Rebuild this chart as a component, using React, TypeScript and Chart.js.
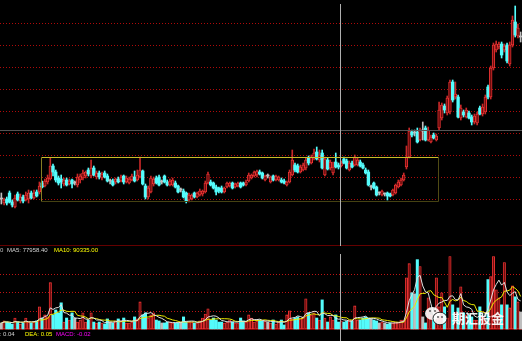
import React, { useEffect, useRef } from "react";
import { Chart, registerables } from "chart.js";

Chart.register(...registerables);

// ---------- data ----------
const OPEN = [
  801, 797, 801, 807, 798, 793, 806, 799, 803, 800, 801, 807, 802, 808, 808, 817, 814, 818, 821, 834,
  828, 822, 821, 816, 820, 816, 820, 817, 815, 820, 822, 824, 830, 824, 832, 823, 827, 822,
  827, 824, 819, 819, 818, 821, 819, 824, 818, 817, 820, 823, 820, 823, 829, 814, 803, 808, 816, 822,
  823, 818, 824, 818, 815, 815, 817, 814, 810, 809, 807, 800, 801, 807, 803, 805, 806, 808, 817,
  818, 817, 813, 812, 812, 808, 813, 814, 817, 813, 814, 817, 817, 815, 819, 822, 824, 825, 828, 827,
  820, 824, 818, 824, 820, 820, 820, 819, 815, 818, 825, 835, 834, 828, 830, 832, 842, 837, 842,
  848, 840, 847, 825, 840, 832, 827, 838, 835, 834, 841, 839, 830, 837, 835, 835, 838, 835, 830, 828,
  813, 817, 813, 807, 805, 806, 807, 806, 805, 807, 813, 815, 820, 833, 843, 868, 867, 868, 860,
  869, 872, 860, 858, 865, 860, 872, 882, 894, 887, 888, 918, 903, 903, 882, 888, 883, 887, 883, 878,
  877, 892, 886, 888, 913, 903, 932, 950, 953, 956, 950, 955, 936, 955, 978, 964, 963,
];
const HIGH = [
  807, 802, 803, 809, 800, 805, 808, 806, 805, 808, 810, 809, 810, 810, 818, 819, 821, 825, 842, 836,
  830, 824, 825, 822, 822, 821, 821, 819, 826, 826, 830, 829, 832, 840, 834, 829, 829, 828,
  829, 826, 821, 821, 822, 823, 825, 825, 824, 823, 826, 829, 830, 843, 830, 816, 814, 824, 823, 824,
  825, 820, 825, 820, 821, 822, 819, 815, 812, 811, 808, 807, 806, 808, 808, 811, 810, 819, 828,
  820, 818, 815, 813, 814, 813, 818, 818, 818, 817, 818, 818, 818, 820, 827, 826, 829, 830, 830, 828,
  825, 826, 824, 825, 825, 824, 822, 821, 819, 830, 850, 837, 836, 835, 837, 842, 844, 845, 851,
  853, 850, 850, 843, 842, 840, 838, 847, 837, 839, 843, 841, 839, 839, 845, 842, 840, 837, 832, 830,
  815, 818, 814, 808, 810, 807, 808, 807, 811, 816, 820, 822, 827, 854, 872, 870, 870, 872, 872,
  878, 874, 873, 865, 867, 866, 898, 897, 896, 904, 920, 920, 918, 905, 895, 890, 892, 889, 885, 886,
  888, 894, 896, 905, 915, 934, 957, 959, 958, 958, 956, 957, 958, 984, 994, 976, 968,
];
const LOW = [
  796, 795, 795, 797, 793, 792, 799, 797, 797, 799, 797, 801, 801, 803, 806, 812, 813, 816, 820, 824,
  818, 815, 812, 814, 814, 815, 812, 815, 813, 817, 820, 822, 824, 822, 824, 821, 821, 820,
  822, 818, 816, 814, 816, 817, 818, 816, 817, 816, 819, 818, 819, 822, 815, 801, 801, 807, 814, 816,
  814, 816, 817, 814, 814, 814, 812, 807, 808, 802, 797, 798, 800, 802, 802, 804, 804, 807, 816,
  814, 811, 805, 807, 807, 807, 812, 813, 811, 812, 813, 812, 814, 814, 818, 821, 823, 823, 825, 821,
  819, 822, 817, 819, 819, 819, 817, 816, 814, 817, 824, 828, 827, 827, 829, 830, 835, 836, 840,
  840, 838, 831, 824, 830, 830, 825, 832, 831, 833, 836, 831, 829, 832, 834, 834, 833, 831, 826, 814,
  810, 811, 804, 805, 804, 804, 800, 803, 804, 806, 812, 814, 819, 831, 842, 863, 864, 857, 859,
  860, 859, 859, 857, 861, 859, 870, 880, 887, 885, 886, 898, 901, 882, 880, 883, 882, 881, 875, 876,
  875, 885, 884, 886, 901, 901, 930, 948, 951, 942, 948, 937, 934, 953, 963, 962, 958,
];
const CLOSE = [
  801, 800, 797, 798, 795, 802, 800, 803, 799, 805, 807, 802, 807, 804, 814, 813, 819, 822, 834, 828,
  820, 817, 818, 820, 815, 819, 816, 817, 823, 824, 827, 828, 826, 832, 825, 827, 823, 826,
  823, 819, 819, 815, 821, 818, 823, 818, 822, 821, 824, 819, 825, 830, 816, 803, 812, 822, 821, 817,
  815, 818, 818, 815, 819, 820, 813, 808, 810, 803, 799, 805, 805, 803, 807, 809, 809, 817, 826,
  815, 812, 808, 809, 808, 812, 817, 817, 812, 816, 817, 813, 815, 818, 825, 825, 828, 829, 826, 822,
  824, 824, 823, 820, 824, 823, 818, 817, 818, 828, 840, 830, 828, 833, 835, 840, 837, 843, 847,
  841, 845, 832, 841, 831, 838, 833, 833, 833, 837, 837, 832, 837, 833, 843, 840, 834, 832, 827, 815,
  813, 812, 805, 807, 809, 806, 804, 804, 810, 815, 818, 820, 825, 843, 869, 865, 867, 858, 870,
  869, 860, 870, 863, 862, 864, 890, 895, 890, 902, 918, 900, 906, 883, 892, 885, 890, 882, 878, 884,
  886, 886, 893, 903, 903, 932, 955, 956, 956, 945, 954, 939, 955, 980, 965, 972, 963,
];
const VOLUME = [
  33000, 44000, 38000, 33000, 27000, 60000, 38000, 27000, 33000, 60000,
  38000, 33000, 38000, 44000, 121000, 60000, 77000, 66000, 253000, 77000,
  104000, 88000, 143000, 38000, 60000, 49000, 88000, 60000, 38000, 49000,
  88000, 38000, 49000, 88000, 38000, 33000, 38000, 33000, 27000, 55000,
  38000, 33000, 44000, 55000, 44000, 60000, 33000, 33000, 38000, 66000,
  55000, 148000, 77000, 88000, 60000, 77000, 88000, 49000, 44000, 33000,
  33000, 38000, 38000, 33000, 33000, 33000, 38000, 66000, 38000, 38000,
  38000, 33000, 33000, 44000, 60000, 82000, 110000, 49000, 60000, 49000,
  38000, 38000, 33000, 38000, 49000, 38000, 33000, 33000, 60000, 44000,
  38000, 77000, 60000, 38000, 44000, 49000, 44000, 44000, 38000, 33000,
  49000, 27000, 38000, 49000, 22000, 77000, 99000, 55000, 60000, 66000,
  60000, 66000, 165000, 88000, 77000, 88000, 60000, 49000, 159000, 60000,
  38000, 66000, 49000, 77000, 38000, 44000, 38000, 44000, 49000, 44000,
  126000, 49000, 49000, 60000, 66000, 60000, 55000, 49000, 44000, 33000,
  38000, 33000, 27000, 33000, 33000, 38000, 38000, 49000, 49000, 280000,
  357000, 198000, 192000, 379000, 341000, 66000, 33000, 170000, 77000, 60000,
  280000, 121000, 198000, 121000, 60000, 396000, 132000, 93000, 115000, 231000,
  88000, 77000, 77000, 66000, 49000, 49000, 121000, 66000, 49000, 270000,
  286000, 396000, 214000, 170000, 132000, 363000, 132000, 115000, 236000, 176000,
  148000, 93000,
];
const CATEGORIES = OPEN.map((_, i) => String(i + 1));

const PRICE_GRID = [977, 955, 933, 911, 889, 867, 845, 823, 801];
const VOLUME_GRID = [100000, 200000, 300000];
const VOLUME_PANE_TOP = 459000;
const BOX = { fromIndex: 14.5, toIndex: 160.5, high: 843, low: 799 };
const CURSOR = { index: 124.5, price: 870 };

const HEADER_TEXT = [
  { text: "0", color: "rgb(190,190,190)" },
  { text: "MA5: 77958.40", color: "rgb(210,210,210)" },
  { text: "MA10: 90335.00", color: "rgb(255,255,0)" },
];
const MACD_TEXT = [
  { text: "DIF: 0.04", color: "rgb(210,210,210)" },
  { text: "DEA: 0.05", color: "rgb(255,255,0)" },
  { text: "MACD: -0.02", color: "rgb(255,0,255)" },
];
const WATERMARK = "期汇股金";

// ---------- axis ranges / styles ----------
const PRICE_MIN = 659;
const PRICE_MAX = 1000;
const VOL_MIN = -65574;
const VOL_MAX = 1797814;

const UP = "rgb(255,56,56)";
const UP_FILL = "rgb(110,14,14)";
const DOWN = "rgb(84,252,252)";
const FLAT = "rgb(190,190,190)";

const dir = (i: number) => Math.sign(CLOSE[i] - OPEN[i]);
const pick = (ctx: any, up: any, down: any, flat: any) => {
  const i = ctx && typeof ctx.dataIndex === "number" ? ctx.dataIndex : -1;
  if (i < 0) return down;
  const d = dir(i);
  return d > 0 ? up : d < 0 ? down : flat;
};

const movingAverage = (values: number[], n: number) =>
  values.map((_, i) => {
    const s = values.slice(Math.max(0, i - n + 1), i + 1);
    return s.reduce((a, b) => a + b, 0) / s.length;
  });

const overlay = {
  id: "overlay",
  beforeDraw(chart: any) {
    const { ctx, width, height } = chart;
    ctx.save();
    ctx.fillStyle = "#000";
    ctx.fillRect(0, 0, width, height);
    ctx.restore();
  },
  beforeDatasetsDraw(chart: any) {
    const { ctx, width } = chart;
    const y = chart.scales.y;
    const yv = chart.scales.yv;
    const hline = (py: number, color: string, dash: number[]) => {
      const yy = Math.round(py) + 0.5;
      ctx.strokeStyle = color;
      ctx.setLineDash(dash);
      ctx.beginPath();
      ctx.moveTo(0, yy);
      ctx.lineTo(width, yy);
      ctx.stroke();
    };
    ctx.save();
    ctx.lineWidth = 1;
    PRICE_GRID.forEach((p) => hline(y.getPixelForValue(p), "rgb(175,10,10)", [1, 2]));
    VOLUME_GRID.forEach((v) => hline(yv.getPixelForValue(v), "rgb(190,20,20)", [1, 2]));
    hline(yv.getPixelForValue(VOLUME_PANE_TOP), "rgb(100,0,0)", []);
    hline(yv.getPixelForValue(0), "rgb(120,0,0)", []);
    ctx.restore();
  },
  afterDatasetsDraw(chart: any) {
    const { ctx, width, height } = chart;
    const x = chart.scales.x;
    const y = chart.scales.y;
    const yv = chart.scales.yv;
    ctx.save();
    ctx.lineWidth = 1;
    ctx.setLineDash([]);

    // box
    const l = Math.round(x.getPixelForValue(BOX.fromIndex)) + 0.5;
    const r = Math.round(x.getPixelForValue(BOX.toIndex)) + 0.5;
    const t = Math.round(y.getPixelForValue(BOX.high)) + 0.5;
    const b = Math.round(y.getPixelForValue(BOX.low)) + 0.5;
    const seg = (x1: number, y1: number, x2: number, y2: number, c: string) => {
      ctx.strokeStyle = c;
      ctx.beginPath();
      ctx.moveTo(x1, y1);
      ctx.lineTo(x2, y2);
      ctx.stroke();
    };
    seg(l, t, r, t, "rgb(200,190,40)");
    seg(l, t, l, b, "rgb(135,125,35)");
    seg(r, t, r, b, "rgb(80,75,20)");
    seg(l, b, r, b, "rgb(70,66,18)");

    // cursor
    const cy = Math.round(y.getPixelForValue(CURSOR.price)) + 0.5;
    seg(0, cy, width, cy, "rgb(85,85,85)");
    const cx = Math.round(x.getPixelForValue(CURSOR.index)) + 0.5;
    const paneTop = Math.round(yv.getPixelForValue(VOLUME_PANE_TOP));
    seg(cx, 4, cx, paneTop + 1, "rgb(175,175,175)");
    seg(cx, paneTop + 9, cx, height, "rgb(175,175,175)");

    // texts
    ctx.font = '6px "Liberation Sans", Arial, sans-serif';
    ctx.textBaseline = "alphabetic";
    const headerX = [0, 7, 54];
    HEADER_TEXT.forEach((s, i) => {
      ctx.fillStyle = s.color;
      ctx.fillText(s.text, headerX[i], paneTop + 7);
    });
    const bottomY = Math.round(yv.getPixelForValue(0)) + 7;
    const macdX = [-10, 25, 56];
    MACD_TEXT.forEach((s, i) => {
      ctx.fillStyle = s.color;
      ctx.fillText(s.text, macdX[i], bottomY);
    });

    // watermark
    ctx.fillStyle = "rgba(255,255,255,0.9)";
    ctx.beginPath();
    ctx.ellipse(432.5, 313.5, 7.5, 6.5, 0, 0, Math.PI * 2);
    ctx.fill();
    ctx.strokeStyle = "rgba(0,0,0,0.8)";
    ctx.beginPath();
    ctx.ellipse(440, 318.5, 7, 6.3, 0, 0, Math.PI * 2);
    ctx.fill();
    ctx.stroke();
    ctx.fillStyle = "rgba(60,60,60,0.9)";
    [[430, 311], [435, 311], [438, 317], [442, 317]].forEach(([ex, ey]) => {
      ctx.beginPath();
      ctx.arc(ex, ey, 0.9, 0, Math.PI * 2);
      ctx.fill();
    });
    ctx.fillStyle = "rgba(255,255,255,0.92)";
    ctx.font = 'bold 13px "Noto Sans CJK SC", sans-serif';
    ctx.fillText(WATERMARK, 452, 323);
    ctx.restore();
  },
};

export default function App() {
  const ref = useRef<HTMLCanvasElement>(null);
  useEffect(() => {
    document.body.style.margin = "0";
    document.body.style.background = "#000";
    const ma5 = movingAverage(VOLUME, 5);
    const ma10 = movingAverage(VOLUME, 10);
    const chart = new Chart(ref.current as HTMLCanvasElement, {
      type: "bar",
      data: {
        labels: CATEGORIES,
        datasets: [
          {
            type: "line",
            label: "MA5",
            data: ma5,
            yAxisID: "yv",
            borderColor: "rgb(225,225,225)",
            borderWidth: 1,
            pointRadius: 0,
            tension: 0,
            order: 0,
          } as any,
          {
            type: "line",
            label: "MA10",
            data: ma10,
            yAxisID: "yv",
            borderColor: "rgb(235,235,0)",
            borderWidth: 1,
            pointRadius: 0,
            tension: 0,
            order: 1,
          } as any,
          {
            type: "bar",
            label: "body",
            data: OPEN.map((o, i) => [o, CLOSE[i]]),
            yAxisID: "y",
            grouped: false,
            barThickness: 2.7,
            minBarLength: 1,
            borderSkipped: false,
            backgroundColor: (c: any) => pick(c, UP_FILL, DOWN, FLAT),
            borderColor: (c: any) => pick(c, UP, DOWN, FLAT),
            borderWidth: (c: any) => pick(c, 0.85, 0, 0),
            order: 2,
          } as any,
          {
            type: "bar",
            label: "wick",
            data: LOW.map((lo, i) => [lo, HIGH[i]]),
            yAxisID: "y",
            grouped: false,
            barThickness: 1,
            backgroundColor: (c: any) => pick(c, "rgb(200,40,40)", DOWN, FLAT),
            order: 3,
          } as any,
          {
            type: "bar",
            label: "volume",
            data: VOLUME,
            yAxisID: "yv",
            grouped: false,
            barThickness: 2.4,
            borderSkipped: false,
            backgroundColor: (c: any) => pick(c, UP_FILL, DOWN, FLAT),
            borderColor: (c: any) => pick(c, UP, DOWN, FLAT),
            borderWidth: (c: any) => pick(c, 0.8, 0, 0),
            order: 4,
          } as any,
        ],
      },
      options: {
        responsive: false,
        maintainAspectRatio: false,
        animation: false,
        devicePixelRatio: 1,
        events: [],
        layout: { padding: 0 },
        plugins: { legend: { display: false }, tooltip: { enabled: false }, title: { display: false } },
        scales: {
          x: { type: "category", display: false, offset: true, grid: { display: false } },
          y: { type: "linear", display: false, min: PRICE_MIN, max: PRICE_MAX, bounds: "data" },
          yv: { type: "linear", display: false, min: VOL_MIN, max: VOL_MAX, bounds: "data" },
        },
      } as any,
      plugins: [overlay],
    });
    return () => chart.destroy();
  }, []);
  return (
    <div style={{ width: 522, height: 341, background: "#000" }}>
      <canvas ref={ref} width={522} height={341} style={{ display: "block", width: 522, height: 341 }} />
    </div>
  );
}
